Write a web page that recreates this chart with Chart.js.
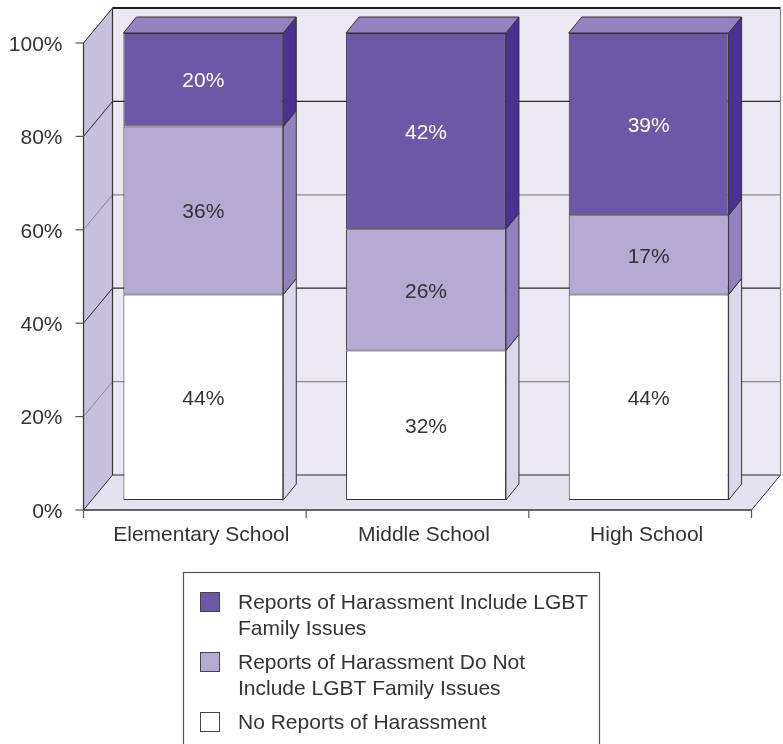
<!DOCTYPE html>
<html>
<head>
<meta charset="utf-8">
<script src="https://cdn.jsdelivr.net/npm/chart.js@4.4.1/dist/chart.umd.min.js"></script>
<style>
  body { margin: 0; background: #fff; }
  #wrap { width: 783px; height: 744px; position: relative; }
</style>
</head>
<body>
<div id="wrap"><canvas id="harassChart"></canvas></div>
<script>
const categories = ['Elementary School', 'Middle School', 'High School'];
const noReports = [44, 32, 44];
const notIncludeLgbt = [36, 26, 17];
const includeLgbt = [20, 42, 39];
const yTicks = [0, 20, 40, 60, 80, 100];
const seriesNames = [
    'No Reports of Harassment',
    'Reports of Harassment Do Not\nInclude LGBT Family Issues',
    'Reports of Harassment Include LGBT\nFamily Issues'
];

const FONT = '21px "Liberation Sans", Arial, sans-serif';
const INK = '#333333';

// front, side, top colours for each stacked segment
const faces = [
    { front: '#ffffff', side: '#dcd8ec', top: '#f2f0f8', text: INK },
    { front: '#b4aad3', side: '#9182bf', top: '#c9c1e0', text: INK },
    { front: '#6c58a6', side: '#4a3192', top: '#9382bf', text: '#ffffff' }
];

// offsets of the axis plane and the back wall relative to the bar faces
const FRONT = { dx: -8.5, dy: 10 };
const WALL = { dx: 20.5, dy: -25 };
const BAR_DEPTH = { dx: 13, dy: -16 };

function poly(ctx, pts, fill, stroke, lw) {
    ctx.beginPath();
    ctx.moveTo(pts[0][0], pts[0][1]);
    for (let i = 1; i < pts.length; i++) ctx.lineTo(pts[i][0], pts[i][1]);
    ctx.closePath();
    if (fill) { ctx.fillStyle = fill; ctx.fill(); }
    if (stroke) { ctx.strokeStyle = stroke; ctx.lineWidth = lw || 1; ctx.stroke(); }
}

function line(ctx, x1, y1, x2, y2, color, lw) {
    ctx.beginPath();
    ctx.moveTo(x1, y1);
    ctx.lineTo(x2, y2);
    ctx.strokeStyle = color;
    ctx.lineWidth = lw || 1;
    ctx.stroke();
}

const room = {
    id: 'room',
    beforeDatasetsDraw(chart) {
        const ctx = chart.ctx;
        const a = chart.chartArea;
        const ys = chart.scales.y;
        const xs = chart.scales.x;
        const y0 = ys.getPixelForValue(0);
        const y100 = ys.getPixelForValue(100);
        const fl = a.left + FRONT.dx, fr = a.right + FRONT.dx;
        const bl = a.left + WALL.dx, br = a.right + WALL.dx;

        ctx.save();
        // back wall
        poly(ctx, [[bl, y100 + WALL.dy], [br, y100 + WALL.dy], [br, y0 + WALL.dy], [bl, y0 + WALL.dy]], '#ebe8f3');
        // left wall
        poly(ctx, [[fl, y0 + FRONT.dy], [bl, y0 + WALL.dy], [bl, y100 + WALL.dy], [fl, y100 + FRONT.dy]], '#c6bfdd');
        // floor
        poly(ctx, [[fl, y0 + FRONT.dy], [fr, y0 + FRONT.dy], [br, y0 + WALL.dy], [bl, y0 + WALL.dy]], '#e5e2ef');

        // grid lines on both walls
        ys.ticks.forEach((t, i) => {
            const py = ys.getPixelForValue(t.value);
            const col = (i % 2 === 1 && t.value !== 100) ? '#8a8a8a' : '#2a2a2a';
            line(ctx, bl, py + WALL.dy, br, py + WALL.dy, col, 1.2);
            line(ctx, fl, py + FRONT.dy, bl, py + WALL.dy, col, 1);
        });

        // edges of the box
        line(ctx, bl, y100 + WALL.dy, br, y100 + WALL.dy, '#1e1e1e', 2.2);
        line(ctx, bl, y100 + WALL.dy, bl, y0 + WALL.dy, '#333', 1.2);
        line(ctx, br, y100 + WALL.dy, br, y0 + WALL.dy, '#888', 1.2);
        line(ctx, fl, y100 + FRONT.dy, fl, y0 + FRONT.dy, '#333', 1.2);
        line(ctx, fl, y0 + FRONT.dy, fr, y0 + FRONT.dy, '#333', 1.4);
        line(ctx, fr, y0 + FRONT.dy, br, y0 + WALL.dy, '#333', 1);

        // y ticks and labels
        ctx.font = FONT;
        ctx.fillStyle = INK;
        ctx.textAlign = 'right';
        ctx.textBaseline = 'middle';
        ys.ticks.forEach(t => {
            const py = ys.getPixelForValue(t.value) + FRONT.dy;
            line(ctx, fl - 8, py, fl, py, '#555', 1.2);
            ctx.fillText(t.value + '%', fl - 21, py + 2);
        });

        // x ticks at category boundaries
        const step = xs.getPixelForValue(1) - xs.getPixelForValue(0);
        for (let i = 0; i <= categories.length; i++) {
            const px = xs.getPixelForValue(0) - step / 2 + i * step + FRONT.dx;
            line(ctx, px, y0 + FRONT.dy, px, y0 + FRONT.dy + 8, '#555', 1.2);
        }

        // category labels
        ctx.textAlign = 'center';
        categories.forEach((c, i) => {
            ctx.fillText(c, xs.getPixelForValue(i) - 2, y0 + FRONT.dy + 25);
        });
        ctx.restore();
    },
    afterDatasetsDraw(chart) {
        const ctx = chart.ctx;
        const last = chart.data.datasets.length - 1;
        ctx.save();
        chart.data.datasets.forEach((ds, di) => {
            const meta = chart.getDatasetMeta(di);
            meta.data.forEach((bar, i) => {
                const p = bar.getProps(['x', 'y', 'base', 'width'], true);
                const left = p.x - p.width / 2, right = p.x + p.width / 2;
                const top = Math.min(p.y, p.base), bottom = Math.max(p.y, p.base);
                const d = BAR_DEPTH;
                poly(ctx, [[right, top], [right + d.dx, top + d.dy], [right + d.dx, bottom + d.dy], [right, bottom]],
                    faces[di].side, '#333', 1);
                if (di === last) {
                    poly(ctx, [[left, top], [left + d.dx, top + d.dy], [right + d.dx, top + d.dy], [right, top]],
                        faces[di].top, '#333', 1);
                }
                ctx.font = FONT;
                ctx.fillStyle = faces[di].text;
                ctx.textAlign = 'center';
                ctx.textBaseline = 'middle';
                ctx.fillText(ds.data[i] + '%', p.x, (top + bottom) / 2 + 2);
            });
        });
        ctx.restore();
    },
    afterDraw(chart) {
        const ctx = chart.ctx;
        ctx.save();
        ctx.strokeStyle = '#555';
        ctx.lineWidth = 1.2;
        ctx.strokeRect(183.5, 572.5, 416, 200);
        ctx.font = FONT;
        ctx.textAlign = 'left';
        ctx.textBaseline = 'middle';
        let cy = 602;
        for (let di = chart.data.datasets.length - 1; di >= 0; di--) {
            const lines = seriesNames[di].split('\n');
            ctx.fillStyle = faces[di].front;
            ctx.fillRect(200.5, cy - 9.5, 19, 19);
            ctx.strokeStyle = '#444';
            ctx.lineWidth = 1;
            ctx.strokeRect(200.5, cy - 9.5, 19, 19);
            ctx.fillStyle = INK;
            lines.forEach((ln, k) => ctx.fillText(ln, 238, cy + 1 + k * 26));
            cy += 26 * (lines.length - 1) + 34;
        }
        ctx.restore();
    }
};

const series = [noReports, notIncludeLgbt, includeLgbt];

new Chart(document.getElementById('harassChart'), {
    type: 'bar',
    data: {
        labels: categories,
        datasets: series.map((vals, i) => ({
            label: seriesNames[i].replace('\n', ' '),
            data: vals,
            backgroundColor: faces[i].front,
            borderColor: '#333',
            borderWidth: 1,
            borderSkipped: false,
            barPercentage: 0.718,
            categoryPercentage: 1
        }))
    },
    options: {
        responsive: true,
        maintainAspectRatio: false,
        animation: false,
        layout: { padding: { left: 92, top: 33, right: 23, bottom: 244 } },
        plugins: { legend: { display: false }, tooltip: { enabled: false } },
        scales: {
            x: { stacked: true, display: false },
            y: { stacked: true, display: false, min: 0, max: 100, ticks: { stepSize: 20 } }
        }
    },
    plugins: [room]
});
</script>
</body>
</html>
